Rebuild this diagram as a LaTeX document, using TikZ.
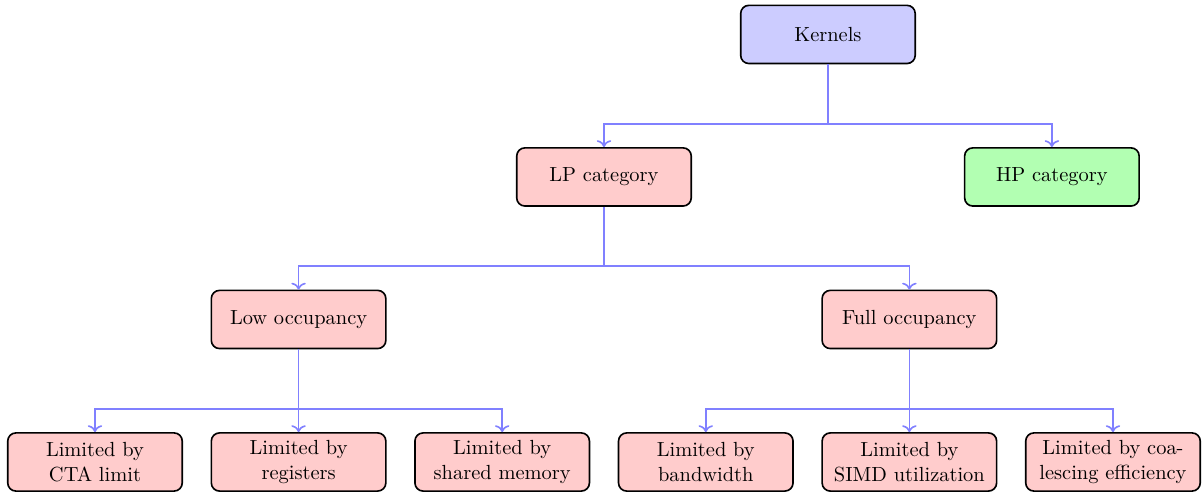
\documentclass[tikz,border=0pt]{standalone}
\usetikzlibrary{positioning,calc,arrows.meta}

\begin{document}
\begin{tikzpicture}[
    box/.style={rectangle, rounded corners=4pt, draw=black, thick, minimum width=3cm, minimum height=1cm, align=center},
    leaf/.style={box, fill=red!20},
    branch/.style={->, thick, blue!50}
]
\useasboundingbox (-1.633,-0.533) rectangle (19.065,7.942);

% Root
\node[box, fill=blue!20] (kern) at (12.6, 7.35) {Kernels};

% Categories
\node[box, fill=red!20] (lp) at (8.75, 4.9) {LP category};
\node[box, fill=green!30] (hp) at (16.45, 4.9) {HP category};

% Occupancy
\node[box, fill=red!20] (low) at (3.5, 2.45) {Low occupancy};
\node[box, fill=red!20] (full) at (14, 2.45) {Full occupancy};

% Limiting factors
\node[leaf] (cta) at (0, 0) {Limited by\\CTA limit};
\node[leaf] (reg) at (3.5, 0) {Limited by\\registers};
\node[leaf] (shm) at (7, 0) {Limited by\\shared memory};
\node[leaf] (bw) at (10.5, 0) {Limited by\\bandwidth};
\node[leaf] (simd) at (14, 0) {Limited by\\SIMD utilization};
\node[leaf] (coal) at (17.5, 0) {Limited by coa-\\lescing efficiency};

% Branches
\draw[branch] (kern.south) |- ([yshift=4mm]lp.north) -- (lp.north);
\draw[branch] (kern.south) |- ([yshift=4mm]hp.north) -- (hp.north);

\draw[branch] (lp.south) |- ([yshift=4mm]low.north) -- (low.north);
\draw[branch] (lp.south) |- ([yshift=4mm]full.north) -- (full.north);

\draw[branch] (low.south) |- ([yshift=4mm]cta.north) -- (cta.north);
\draw[branch] (low.south) -- (reg.north);
\draw[branch] (low.south) |- ([yshift=4mm]shm.north) -- (shm.north);

\draw[branch] (full.south) |- ([yshift=4mm]bw.north) -- (bw.north);
\draw[branch] (full.south) -- (simd.north);
\draw[branch] (full.south) |- ([yshift=4mm]coal.north) -- (coal.north);

\end{tikzpicture}
\end{document}
